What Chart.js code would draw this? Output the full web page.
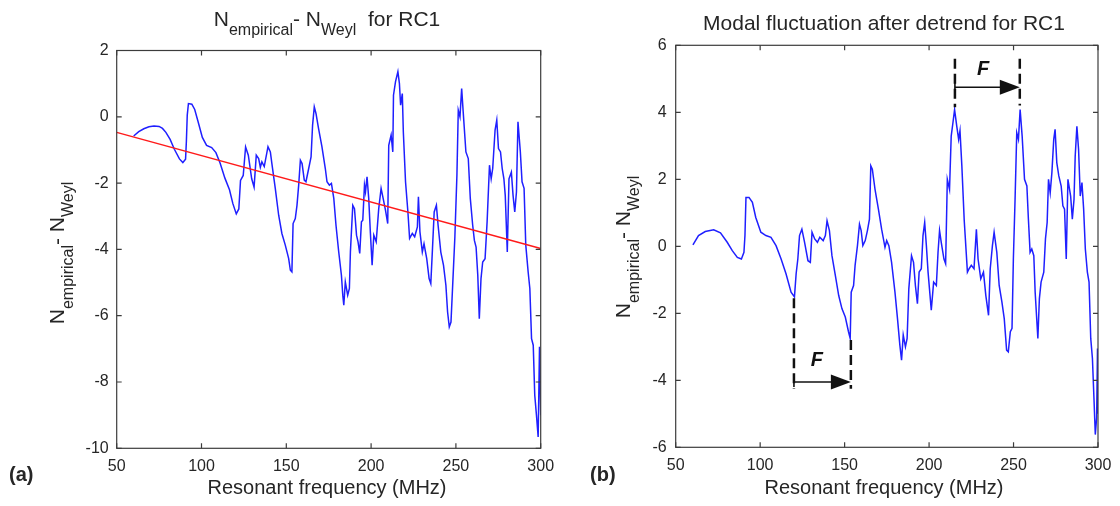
<!DOCTYPE html>
<html><head><meta charset="utf-8">
<script src="https://cdn.jsdelivr.net/npm/chart.js@4.4.1/dist/chart.umd.min.js"></script>
<style>
html,body{margin:0;padding:0;background:#fff;}
#wrap{position:relative;width:1120px;height:506px;overflow:hidden;background:#fff;}
canvas{position:absolute;top:0;}
#c1{left:0}#c2{left:560px}
</style></head><body>
<div id="wrap"><canvas id="c1" width="560" height="506"></canvas><canvas id="c2" width="560" height="506"></canvas></div>
<script>
// ---------- data ----------
const xTicks = [50, 100, 150, 200, 250, 300];
const yTicksA = [-10, -8, -6, -4, -2, 0, 2];
const yTicksB = [-6, -4, -2, 0, 2, 4, 6];

// (a) N_empirical - N_Weyl
const freqA = [60, 63, 66, 69, 72, 75, 77, 79, 81.5, 84,
 87, 89, 90.6, 91.1, 91.6, 92.3, 94.3, 96, 98, 100.5,
 103, 106, 108.5, 111, 113.8, 116.5, 118.5, 120.5, 122, 123,
 124.6, 126, 127.6, 129.6, 131, 132.3, 133.7, 134.7, 135.6, 137,
 139.2, 140.6, 141.5, 143.5, 145.5, 147.4, 149.4, 151.4, 152.4, 153.3,
 154, 155.3, 156.3, 157.3, 158.3, 159.3, 160.6, 161.6, 163.2, 164.6,
 165.5, 166.5, 167.5, 169, 171, 173, 174, 175.4, 176.6, 178,
 179.3, 180.9, 182.5, 183.3, 183.9, 184.8, 186.2, 187.2, 187.8, 189.2,
 190.2, 191.4, 192.3, 193.3, 194.3, 195.1, 196.1, 196.7, 197.6, 198.6,
 199.6, 200.6, 201.6, 203, 204.5, 205.9, 207.1, 208.5, 209.8, 210.4,
 211.8, 212.8, 213.2, 214.4, 215.8, 216.7, 217.4, 218.4, 219, 220.3,
 221.7, 222.7, 224.3, 225.7, 227.3, 227.9, 228.8, 230.2, 231.2, 232.8,
 234.2, 235.2, 236.2, 237.2, 238.5, 239.5, 241.1, 242.7, 244.1, 245.1,
 246.1, 247.1, 248.1, 249.4, 250.6, 251.4, 252.4, 253.4, 254.3, 255.9,
 257.3, 258.5, 259.9, 260.9, 261.9, 262.9, 263.8, 264.8, 265.8, 267.2,
 268.4, 269.8, 270.8, 271.7, 273.1, 274.1, 275.1, 276.3, 277.3, 278.3,
 279.1, 280.3, 281.3, 282.7, 283.7, 284.7, 285.7, 286.6, 288, 289,
 290.2, 291.2, 292.6, 293.6, 294.6, 295.6, 296.5, 297.5, 298.5, 299.3,
 300];
const valA = [-0.58, -0.45, -0.36, -0.30, -0.28, -0.29, -0.35, -0.47, -0.68, -0.98,
 -1.27, -1.38, -1.28, -0.72, 0.05, 0.40, 0.38, 0.22, -0.15, -0.62,
 -0.86, -0.93, -1.08, -1.40, -1.85, -2.20, -2.62, -2.93, -2.78, -1.92,
 -1.77, -0.91, -1.16, -1.87, -2.12, -1.16, -1.26, -1.52, -1.36, -1.50,
 -0.90, -1.06, -1.41, -2.16, -2.97, -3.52, -3.87, -4.28, -4.63, -4.68,
 -3.22, -3.07, -2.67, -2.06, -1.31, -1.41, -1.91, -1.96, -1.56, -1.21,
 -0.25, 0.30, 0.10, -0.35, -0.90, -1.56, -1.96, -2.06, -2.01, -2.46,
 -3.27, -4.07, -4.78, -5.38, -5.68, -4.98, -5.38, -5.18, -4.07, -2.67,
 -2.77, -3.57, -3.77, -4.12, -3.17, -3.12, -2.06, -2.26, -1.81, -2.46,
 -3.52, -4.48, -3.57, -3.77, -2.77, -2.16, -2.46, -2.82, -3.22, -0.86,
 -0.55, -1.06, 0.65, 1.06, 1.36, 1.00, 0.35, 0.70, -0.45, -1.96,
 -2.87, -3.67, -3.52, -3.62, -3.32, -2.41, -3.47, -4.08, -3.83, -4.28,
 -4.88, -5.03, -3.97, -2.87, -2.67, -3.27, -4.08, -4.48, -5.08, -5.89,
 -6.34, -6.19, -5.08, -3.62, -1.76, 0.20, 0.00, 0.85, 0.15, -1.06,
 -1.26, -2.47, -3.27, -3.73, -3.93, -4.78, -6.09, -4.88, -4.38, -4.28,
 -3.17, -1.46, -1.87, -1.56, -0.40, -0.10, -0.96, -1.06, -1.56, -1.87,
 -2.37, -4.08, -1.87, -1.67, -2.37, -2.87, -2.27, -0.15, -1.06, -1.96,
 -2.16, -3.87, -4.68, -5.18, -6.69, -6.89, -8.40, -9.00, -9.66, -6.94,
 -9.00];
// red fitted trend line
const trendFreq = [50, 300];
const trendVal = [-0.47, -3.97];

// (b) detrended fluctuation
const freqB = [60.2, 63.5, 67.5, 72.5, 76.5, 80.5, 83.5, 86.5, 88.9, 90.4,
 91, 91.6, 93.4, 95.4, 97.4, 100.4, 103.4, 106.4, 109.4, 112.4,
 115.3, 118.3, 120.3, 121.3, 122.3, 123.3, 124.7, 126.3, 128.3, 129.7,
 130.7, 132.3, 133.9, 135.3, 137.3, 138.6, 139.6, 141, 142.5, 144.5,
 146.5, 148.4, 150.4, 152.3, 153.3, 153.9, 155.3, 156.2, 157.6, 158.8,
 159.8, 160.8, 162.2, 163.5, 164.7, 165.5, 166.4, 168, 170, 171.9,
 173.9, 174.9, 176.2, 177.8, 179.8, 181.3, 182.7, 183.7, 184.7, 186,
 187, 188, 189.6, 190.8, 191.9, 193.1, 194.1, 195.4, 196.4, 197.4,
 198.4, 199.4, 201.3, 202.7, 204.3, 205.3, 206.2, 207.2, 208.8, 209.8,
 210.8, 212.1, 213.1, 214.1, 215.1, 216.4, 217.5, 218.3, 219.4, 220.8,
 222.7, 223.7, 225, 226.6, 228, 229, 230.6, 232.2, 233.6, 235.2,
 236.2, 237.5, 238.5, 240.1, 241.5, 243.1, 244.5, 245.9, 246.9, 248.1,
 249.1, 249.9, 250.9, 251.9, 252.9, 253.9, 255.1, 256.5, 257.9, 258.8,
 259.8, 260.8, 262, 262.8, 264.4, 265.3, 266.3, 267.9, 268.9, 269.9,
 270.7, 271.7, 272.7, 273.8, 274.6, 275.6, 276.8, 278.2, 279.2, 280.2,
 281.2, 282.2, 283.8, 284.8, 285.8, 286.5, 287.5, 288.5, 289.5, 290.5,
 291.5, 292.5, 293.7, 294.7, 295.7, 296.7, 297.6, 298.4, 299.2, 299.7,
 300];
const valB = [0.04, 0.32, 0.44, 0.49, 0.40, 0.12, -0.13, -0.33, -0.38, -0.18,
 0.32, 1.46, 1.46, 1.31, 0.86, 0.42, 0.32, 0.27, 0.02, -0.38,
 -0.82, -1.37, -1.51, -0.82, -0.38, 0.32, 0.51, 0.12, -0.43, -0.48,
 0.42, 0.22, 0.12, 0.27, 0.17, 0.32, 0.76, 0.47, -0.28, -0.87,
 -1.47, -1.86, -2.11, -2.55, -2.75, -1.37, -1.17, -0.57, 0.02, 0.66,
 0.47, 0.02, 0.17, 0.47, 0.81, 2.40, 2.30, 1.70, 1.11, 0.51,
 -0.03, 0.17, 0.02, -0.48, -1.37, -2.16, -2.95, -3.40, -2.65, -3.00,
 -2.75, -1.27, -0.28, -0.48, -1.17, -1.71, -0.77, -0.67, 0.32, 0.71,
 0.02, -0.77, -1.91, -1.07, -1.17, -0.18, 0.47, 0.12, -0.38, -0.52,
 2.00, 1.70, 3.29, 3.68, 4.08, 3.58, 3.19, 3.45, 2.40, 0.78,
 -0.77, -0.67, -0.57, -0.67, 0.51, -0.38, -0.97, -0.77, -1.47, -2.06,
 -0.67, 0.02, 0.42, -0.18, -1.17, -1.66, -2.16, -3.10, -3.15, -2.55,
 -2.45, -0.38, 1.40, 3.39, 3.19, 4.08, 3.29, 2.00, 1.80, 0.81,
 -0.18, -0.08, -0.28, -1.37, -2.75, -1.56, -1.07, -0.77, 0.22, 0.71,
 2.00, 1.60, 2.20, 3.19, 3.49, 2.50, 2.10, 1.80, 1.21, 1.11,
 -0.38, 2.00, 1.50, 0.81, 1.40, 2.69, 3.58, 2.89, 1.50, 1.90,
 1.11, -0.08, -0.77, -1.07, -2.75, -3.35, -4.53, -5.62, -5.12, -3.05,
 -5.00];

// "F" spacing annotations on panel (b)
const dashFreq   = [120.0, 153.7, 215.3, 253.7];
const dashTop    = [-1.55, -2.80, 5.60, 5.60];
const dashBottom = [-4.25, -4.25, 4.15, 4.20];
const arrowFrom  = [120.0, 215.3];
const arrowTo    = [153.7, 253.7];
const arrowLevel = [-4.05, 4.75];
const fLabelFreq = [133.5, 232.0];
const fLabelVal  = [-3.42, 5.27];

const xTitle = 'Resonant frequency (MHz)';
const titleB = 'Modal fluctuation after detrend for RC1';

// ---------- drawing ----------
const FONT = '"Liberation Sans", Arial, Helvetica, sans-serif';
const TXT = '#262626';

function drawRich(ctx, parts, x, y) {
  let w = 0;
  for (const p of parts) { ctx.font = (p.st || '') + p.s + 'px ' + FONT; w += ctx.measureText(p.t).width; }
  let cx = x - w / 2;
  for (const p of parts) {
    ctx.font = (p.st || '') + p.s + 'px ' + FONT;
    ctx.fillText(p.t, cx, y + (p.dy || 0));
    cx += ctx.measureText(p.t).width;
  }
}
const nParts = [
  {t: 'N', s: 21}, {t: 'empirical', s: 16, dy: 9}, {t: '- N', s: 21}, {t: 'Weyl', s: 16, dy: 9}
];

function decor(cfg) {
  return {
    id: 'decor',
    afterDatasetsDraw(chart) {
      const {ctx, chartArea: a, scales} = chart;
      const xs = scales.x, ys = scales.y;
      ctx.save();
      ctx.strokeStyle = '#3c3c3c';
      ctx.lineWidth = 1.2;
      ctx.strokeRect(a.left, a.top, a.right - a.left, a.bottom - a.top);
      const L = 5;
      ctx.beginPath();
      xs.ticks.forEach(t => {
        const p = xs.getPixelForValue(t.value);
        ctx.moveTo(p, a.bottom); ctx.lineTo(p, a.bottom - L);
        ctx.moveTo(p, a.top); ctx.lineTo(p, a.top + L);
      });
      ys.ticks.forEach(t => {
        const p = ys.getPixelForValue(t.value);
        ctx.moveTo(a.left, p); ctx.lineTo(a.left + L, p);
        ctx.moveTo(a.right, p); ctx.lineTo(a.right - L, p);
      });
      ctx.stroke();

      if (cfg.annot) {
        ctx.strokeStyle = '#111';
        ctx.fillStyle = '#111';
        ctx.lineWidth = 2.5;
        ctx.setLineDash([10, 5]);
        dashFreq.forEach((f, i) => {
          const px = xs.getPixelForValue(f);
          ctx.beginPath();
          ctx.moveTo(px, ys.getPixelForValue(dashTop[i]));
          ctx.lineTo(px, ys.getPixelForValue(dashBottom[i]));
          ctx.stroke();
        });
        ctx.setLineDash([]);
        ctx.lineWidth = 1.6;
        arrowFrom.forEach((f, i) => {
          const x0 = xs.getPixelForValue(f), x1 = xs.getPixelForValue(arrowTo[i]);
          const yy = ys.getPixelForValue(arrowLevel[i]);
          ctx.beginPath(); ctx.moveTo(x0, yy); ctx.lineTo(x1 - 16, yy); ctx.stroke();
          ctx.beginPath(); ctx.moveTo(x1, yy); ctx.lineTo(x1 - 20, yy - 7.5); ctx.lineTo(x1 - 20, yy + 7.5); ctx.closePath(); ctx.fill();
          ctx.beginPath(); ctx.moveTo(x0, yy - 5); ctx.lineTo(x0, yy + 5); ctx.stroke();
        });
        ctx.font = 'italic bold 20px ' + FONT;
        ctx.textAlign = 'center'; ctx.textBaseline = 'middle';
        fLabelFreq.forEach((f, i) => {
          ctx.fillText('F', xs.getPixelForValue(f), ys.getPixelForValue(fLabelVal[i]));
        });
      }

      ctx.fillStyle = TXT;
      ctx.textAlign = 'left';
      ctx.textBaseline = 'alphabetic';
      drawRich(ctx, cfg.title, cfg.titleX, cfg.titleY);
      drawRich(ctx, [{t: xTitle, s: 20}], cfg.xtX, cfg.xtY);
      ctx.save();
      ctx.translate(cfg.ytX, cfg.ytY);
      ctx.rotate(-Math.PI / 2);
      drawRich(ctx, nParts, 0, 0);
      ctx.restore();
      ctx.font = 'bold 20px ' + FONT;
      ctx.fillText(cfg.panel, cfg.panelX, cfg.panelY);
      ctx.restore();
    }
  };
}

function scaleOpts(ticksArr, min, max, axis, pad) {
  return {
    type: 'linear', min: min, max: max,
    afterBuildTicks: s => { s.ticks = ticksArr.map(v => ({value: v})); },
    afterFit: s => {
      if (axis === 'x') s.height = 40; else s.width = 50;
      s.paddingLeft = 0; s.paddingRight = 0; s.paddingTop = 0; s.paddingBottom = 0;
    },
    grid: {display: false, drawTicks: false},
    border: {display: false},
    ticks: {color: TXT, font: {family: FONT, size: 16}, padding: pad, autoSkip: false, maxRotation: 0}
  };
}

function build(id, datasets, yTicks, ymin, ymax, padding, ypad, cfg) {
  return new Chart(document.getElementById(id), {
    type: 'line',
    data: {datasets: datasets},
    options: {
      responsive: false, animation: false, devicePixelRatio: 1,
      layout: {padding: padding},
      plugins: {legend: {display: false}, title: {display: false}, tooltip: {enabled: false}},
      scales: {
        x: scaleOpts(xTicks, 50, 300, 'x', 9),
        y: scaleOpts(yTicks, ymin, ymax, 'y', ypad)
      }
    },
    plugins: [decor(cfg)]
  });
}

const lineStyle = (color, order) => ({borderColor: color, borderWidth: 1.5, pointRadius: 0, tension: 0, fill: false, order: order});

build('c1', [
  Object.assign({data: freqA.map((f, i) => ({x: f, y: valA[i]}))}, lineStyle('#1f1fff', 1)),
  Object.assign({data: trendFreq.map((f, i) => ({x: f, y: trendVal[i]}))}, lineStyle('#ff1a1a', 0))
], yTicksA, -10, 2, {left: 66.7, right: 19.3, top: 50.5, bottom: 17.7}, 8, {
  title: [{t: 'N', s: 21}, {t: 'empirical', s: 16, dy: 9}, {t: '- N', s: 21}, {t: 'Weyl', s: 16, dy: 9}, {t: '  for RC1', s: 21}],
  titleX: 327, titleY: 26, xtX: 327, xtY: 494, ytX: 64, ytY: 253, panel: '(a)', panelX: 9, panelY: 481
});

build('c2', [
  Object.assign({data: freqB.map((f, i) => ({x: f, y: valB[i]}))}, lineStyle('#1f1fff', 1))
], yTicksB, -6, 6, {left: 65.7, right: 22, top: 45.3, bottom: 18.7}, 9, {
  title: [{t: titleB, s: 21}],
  titleX: 324, titleY: 30, xtX: 324, xtY: 494, ytX: 70, ytY: 247, panel: '(b)', panelX: 30, panelY: 481,
  annot: true
});
</script>
</body></html>
